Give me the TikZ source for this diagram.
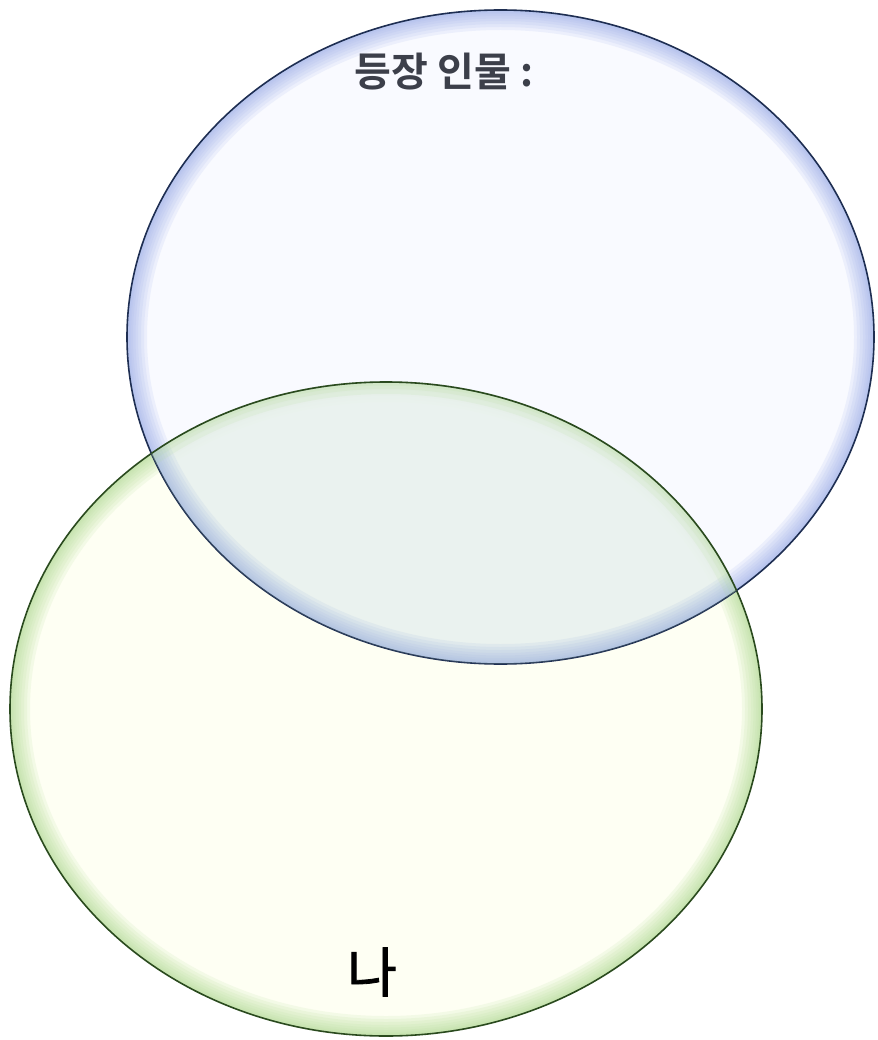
\documentclass[tikz,border=0pt]{standalone}
\usepackage{fontspec}
\newfontfamily\krm[FakeBold=1.5]{Noto Sans CJK KR}
\newfontfamily\krb{Noto Sans CJK KR Bold}
\definecolor{bluefill}{HTML}{F8FAFF}
\definecolor{blueglow}{HTML}{9FB3EA}
\definecolor{blueline}{HTML}{1E2E52}
\definecolor{greenfill}{HTML}{FEFFF3}
\definecolor{greenglow}{HTML}{B5DC98}
\definecolor{greenline}{HTML}{2A4A1E}
\definecolor{txtgray}{HTML}{3C3F4A}
\tikzset{
  title/.style={font=\krb\fontsize{40}{46}\selectfont, text=txtgray, inner sep=0pt},
  me/.style={font=\krm\fontsize{54}{60}\selectfont, text=black, inner sep=0pt},
}
\newcommand{\glowellipse}[5]{% center, rx, ry, glow color, line color
  \begin{scope}
    \clip #1 ellipse [x radius=#2, y radius=#3];
    \foreach \w in {40,34,28,22,17,12,8,5} {
      \draw[#4, line width=\w pt, opacity=0.14] #1 ellipse [x radius=#2, y radius=#3];
    }
  \end{scope}
  \draw[#5, line width=1.6pt] #1 ellipse [x radius=#2, y radius=#3];
}
\begin{document}
\begin{tikzpicture}[x=1pt,y=-1pt]
\useasboundingbox (0,0) rectangle (877,1040);
\fill[white] (0,0) rectangle (877,1040);
% green ellipse
\fill[greenfill] (386,709) ellipse [x radius=376, y radius=327];
\glowellipse{(386,709)}{376}{327}{greenglow}{greenline}
% blue ellipse (translucent)
\fill[bluefill, fill opacity=0.85] (500.5,337) ellipse [x radius=373.5, y radius=327];
\glowellipse{(500.5,337)}{373.5}{327}{blueglow}{blueline}
% overlap tint
\begin{scope}
  \clip (386,709) ellipse [x radius=376, y radius=327];
  \fill[blueglow!30!greenglow, fill opacity=0.18] (500.5,337) ellipse [x radius=373.5, y radius=327];
\end{scope}
% redraw green outline on top inside blue
\begin{scope}
  \clip (500.5,337) ellipse [x radius=373.5, y radius=327];
  \begin{scope}
    \clip (386,709) ellipse [x radius=376, y radius=327];
    \foreach \w in {24,14,7} {
      \draw[greenglow, line width=\w pt, opacity=0.14] (386,709) ellipse [x radius=376, y radius=327];
    }
  \end{scope}
  \draw[greenline, line width=1.6pt] (386,709) ellipse [x radius=376, y radius=327];
\end{scope}
\node[title] (t) at (444,72) {등장 인물 :};
\node[me] (n) at (372,972) {나};
\end{tikzpicture}
\end{document}
